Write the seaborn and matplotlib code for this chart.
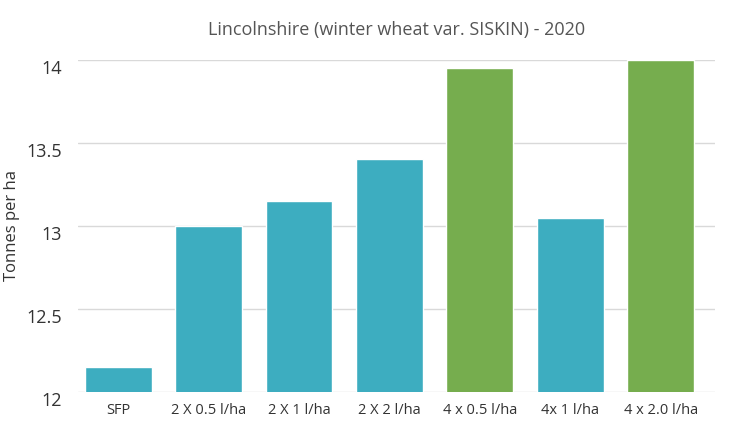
import matplotlib
matplotlib.use("Agg")
import matplotlib.pyplot as plt
import seaborn as sns
import pandas as pd

categories = ["SFP", "2 X 0.5 l/ha", "2 X 1 l/ha", "2 X 2 l/ha", "4 x 0.5 l/ha", "4x 1 l/ha", "4 x 2.0 l/ha"]
values = [12.15, 13.0, 13.15, 13.4, 13.95, 13.05, 14.0]
bar_colors = ["#3DADC0", "#3DADC0", "#3DADC0", "#3DADC0", "#76AD4E", "#3DADC0", "#76AD4E"]

sns.set_theme(style="white")
plt.rcParams['font.family'] = ['Open Sans', 'DejaVu Sans']

df = pd.DataFrame({"cat": categories, "val": values})
fig = plt.figure(figsize=(7.45, 4.33), dpi=100)
ax = fig.add_axes([0.105, 0.095, 0.855, 0.767])
sns.barplot(data=df, x="cat", y="val", hue="cat", palette=bar_colors, legend=False,
            width=0.74, ax=ax, saturation=1)
ax.set_ylim(12, 14)
ax.set_xlim(-0.44, 6.6)
ax.set_yticks([12, 12.5, 13, 13.5, 14])
ax.set_yticklabels(["12", "12.5", "13", "13.5", "14"], va="top")
ax.yaxis.grid(True, color="#d9d9d9", linewidth=1)
ax.set_axisbelow(True)
for s in ax.spines.values():
    s.set_visible(False)
ax.tick_params(axis="y", labelsize=13, colors="#333333", pad=12, length=0)
ax.tick_params(axis="x", labelsize=10.5, colors="#333333", pad=8, length=0)
ax.set_xlabel("")
ax.set_ylabel("Tonnes per ha", fontsize=12, color="#333333")
ax.set_title("Lincolnshire (winter wheat var. SISKIN) - 2020", fontsize=13, color="#555555", pad=18)
fig.savefig("out.png", dpi=100)
